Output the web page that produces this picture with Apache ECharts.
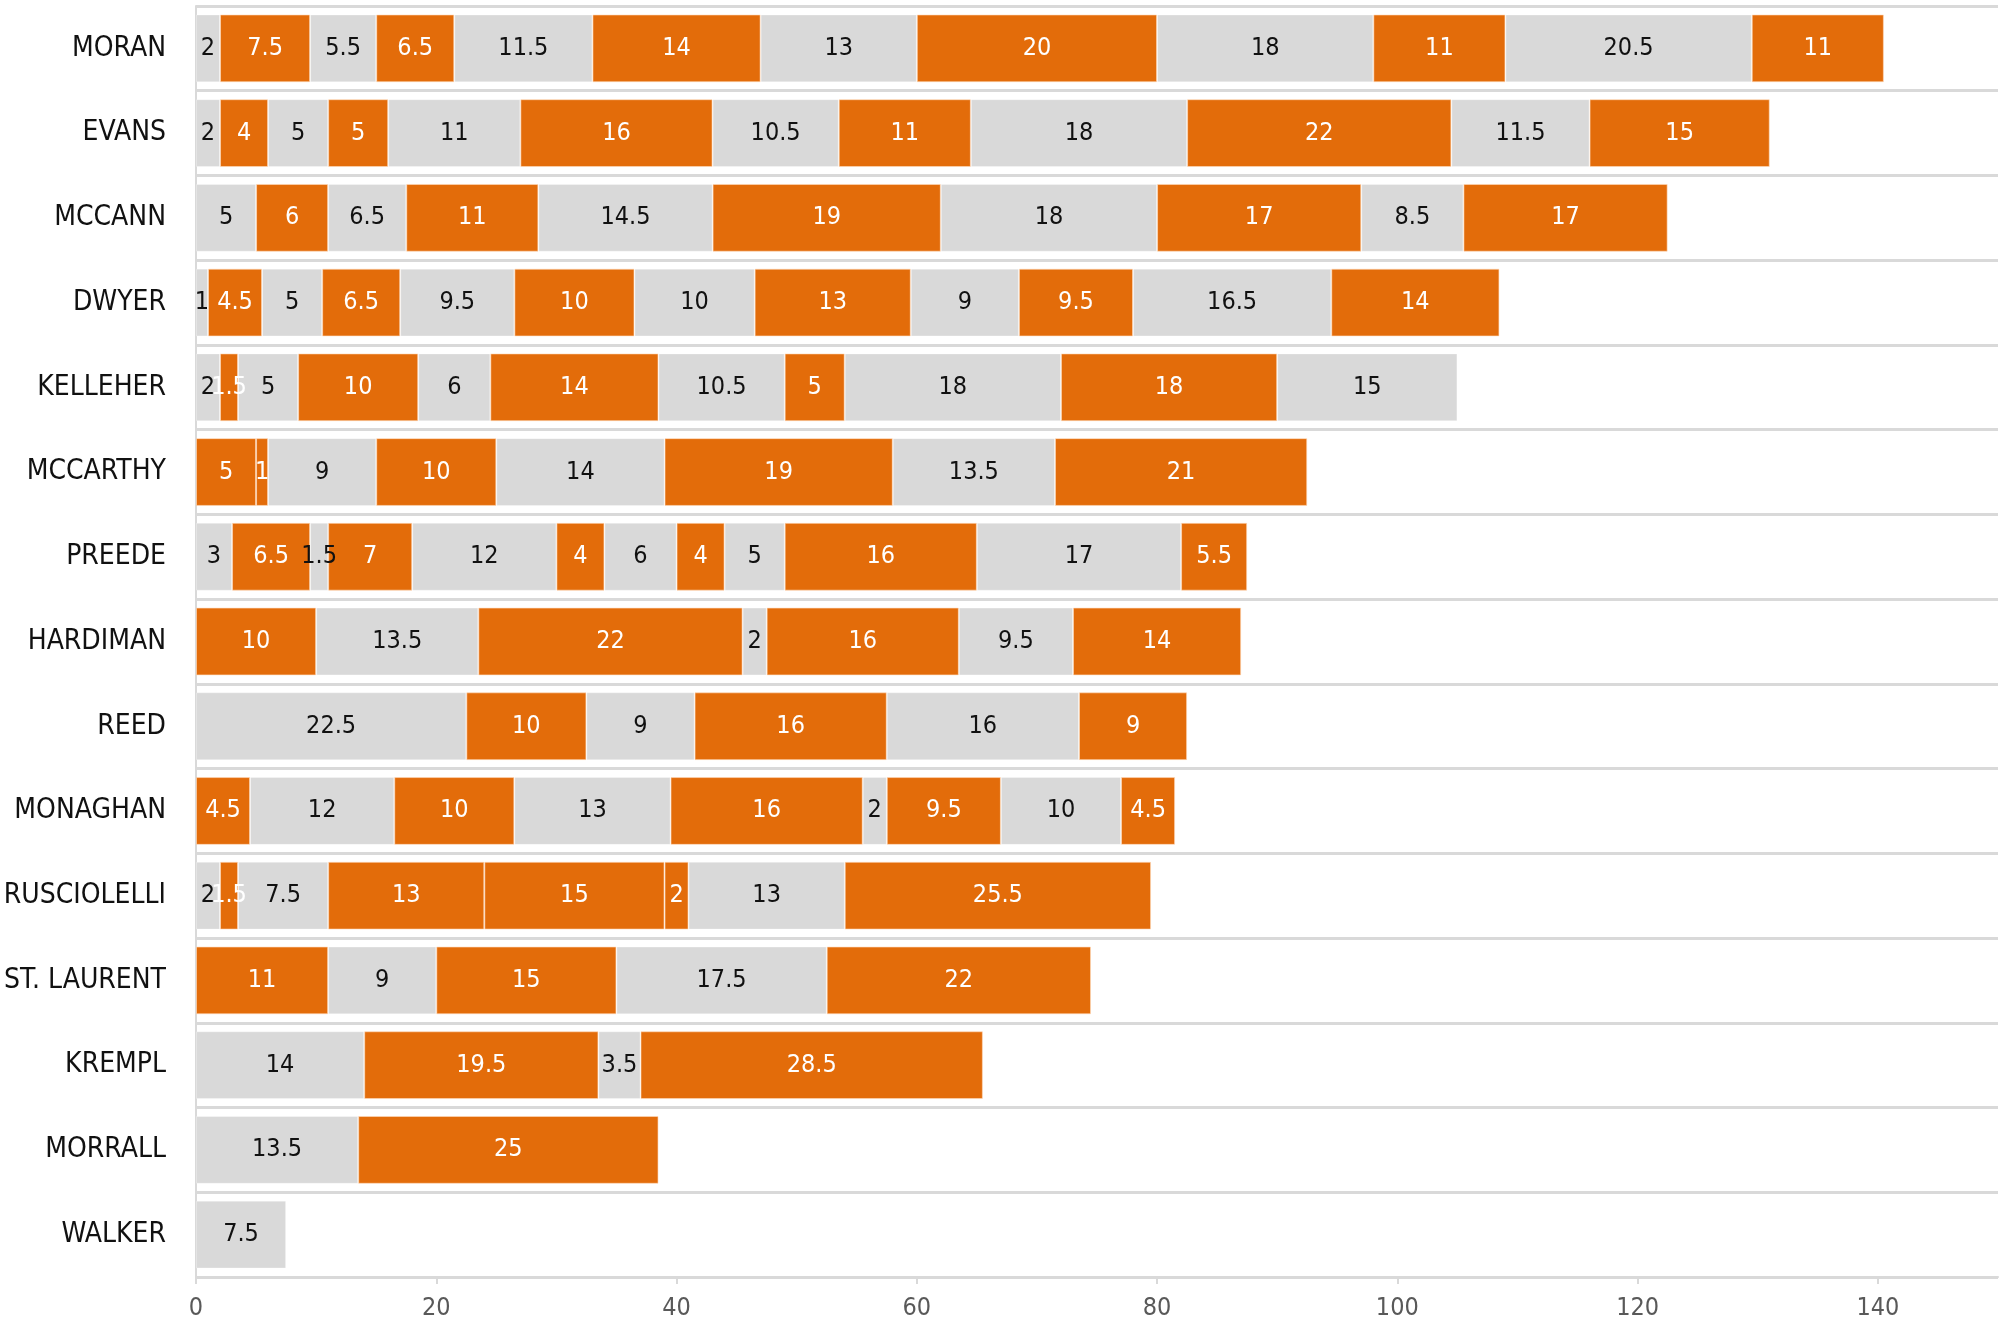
<!DOCTYPE html>
<html>
<head>
<meta charset="utf-8">
<title>Stacked segments</title>
<script src="https://cdn.jsdelivr.net/npm/echarts@6/dist/echarts.min.js"></script>
<style>
  html, body { margin: 0; padding: 0; background: #fff; }
  #chart { width: 2007px; height: 1324px; }
</style>
</head>
<body>
<div id="chart"></div>
<script>
// Rows, top to bottom
const names = [
    'MORAN', 'EVANS', 'MCCANN', 'DWYER', 'KELLEHER', 'MCCARTHY', 'PREEDE', 'HARDIMAN',
    'REED', 'MONAGHAN', 'RUSCIOLELLI', 'ST. LAURENT', 'KREMPL', 'MORRALL', 'WALKER'
];

// Segment lengths per row, left to right
const segValues = [
    [2, 7.5, 5.5, 6.5, 11.5, 14, 13, 20, 18, 11, 20.5, 11],
    [2, 4, 5, 5, 11, 16, 10.5, 11, 18, 22, 11.5, 15],
    [5, 6, 6.5, 11, 14.5, 19, 18, 17, 8.5, 17],
    [1, 4.5, 5, 6.5, 9.5, 10, 10, 13, 9, 9.5, 16.5, 14],
    [2, 1.5, 5, 10, 6, 14, 10.5, 5, 18, 18, 15],
    [5, 1, 9, 10, 14, 19, 13.5, 21],
    [3, 6.5, 1.5, 7, 12, 4, 6, 4, 5, 16, 17, 5.5],
    [10, 13.5, 22, 2, 16, 9.5, 14],
    [22.5, 10, 9, 16, 16, 9],
    [4.5, 12, 10, 13, 16, 2, 9.5, 10, 4.5],
    [2, 1.5, 7.5, 13, 15, 2, 13, 25.5],
    [11, 9, 15, 17.5, 22],
    [14, 19.5, 3.5, 28.5],
    [13.5, 25],
    [7.5]
];

// Segment tone per row: G = grey, O = orange
const segTones = [
    'GOGOGOGOGOGO',
    'GOGOGOGOGOGO',
    'GOGOGOGOGO',
    'GOGOGOGOGOGO',
    'GOGOGOGOGOG',
    'OOGOGOGO',
    'GOGOGOGOGOGO',
    'OGOGOGO',
    'GOGOGO',
    'OGOGOGOGO',
    'GOGOOOGO',
    'OGOGO',
    'GOGO',
    'GO',
    'G'
];

const axisTicks = [0, 20, 40, 60, 80, 100, 120, 140];

const ORANGE = '#e36c0a';
const GREY = '#d9d9d9';
const LINE = '#d9d9d9';
const FONT = '"Liberation Sans Narrow", "DejaVu Sans Condensed", "Roboto Condensed", sans-serif';

const maxSegs = Math.max(...segValues.map(r => r.length));

const series = [];
for (let k = 0; k < maxSegs; k++) {
    series.push({
        type: 'bar',
        stack: 'total',
        barWidth: '80%',
        data: names.map((n, i) => {
            const v = segValues[i][k];
            if (v === undefined) return '-';
            const orange = segTones[i][k] === 'O';
            return {
                value: v,
                itemStyle: {
                    color: orange ? ORANGE : GREY,
                    borderColor: orange ? 'rgba(255,220,190,0.6)' : 'rgba(255,255,255,0.3)',
                    borderWidth: 1
                },
                label: { color: orange ? '#ffffff' : '#111111' }
            };
        }),
        label: {
            show: true,
            position: 'inside',
            fontFamily: FONT,
            fontSize: 25,
            formatter: p => p.value
        }
    });
}

const myChart = echarts.init(document.getElementById('chart'), null, { renderer: 'canvas' });

const option = {
    animation: false,
    backgroundColor: '#ffffff',
    grid: { left: 196, right: 9, top: 6, bottom: 47, containLabel: false, outerBoundsMode: 'none' },
    xAxis: {
        type: 'value',
        min: 0,
        max: 150,
        interval: 20,
        splitLine: { show: false },
        axisLine: { show: true, lineStyle: { color: LINE, width: 2 } },
        axisTick: { show: true, length: 7, customValues: axisTicks, lineStyle: { color: LINE, width: 2 } },
        axisLabel: {
            customValues: axisTicks,
            color: '#595959',
            fontFamily: FONT,
            fontSize: 25,
            margin: 19
        }
    },
    yAxis: {
        type: 'category',
        data: names,
        inverse: true,
        axisLine: { show: true, lineStyle: { color: LINE, width: 2 } },
        axisTick: { show: false },
        splitLine: { show: true, lineStyle: { color: LINE, width: 3 } },
        axisLabel: {
            color: '#111111',
            fontFamily: FONT,
            fontSize: 28,
            margin: 30,
            padding: [5, 0, 0, 0]
        }
    },
    series: series
};

myChart.setOption(option);
window.addEventListener('resize', () => myChart.resize());
</script>
</body>
</html>
